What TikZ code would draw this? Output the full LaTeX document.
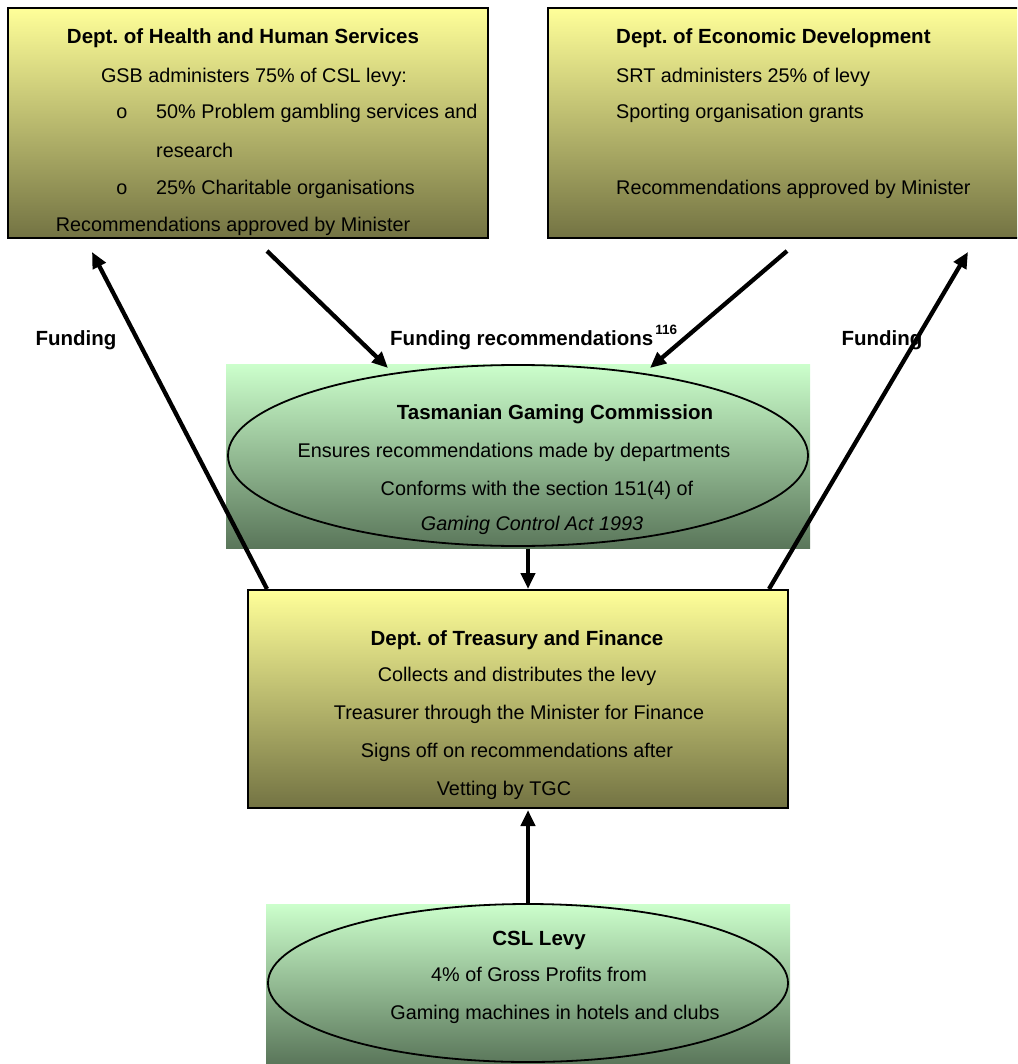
\documentclass[tikz,border=0pt]{standalone}
\usepackage{fontspec}
\setmainfont{Liberation Sans}
\usetikzlibrary{arrows.meta,calc,shapes.geometric}
\definecolor{ytop}{HTML}{FFFF99}
\definecolor{ybot}{HTML}{737343}
\definecolor{gtop}{HTML}{CCFFCC}
\definecolor{gbot}{HTML}{5A765A}
\frenchspacing
\begin{document}
\begin{tikzpicture}[x=1pt,y=-1pt,
  ybox/.style={draw=black, line width=2pt, top color=ytop, bottom color=ybot, rectangle, inner sep=0pt},
  gbox/.style={top color=gtop, bottom color=gbot, rectangle, inner sep=0pt, draw=none},
  oval/.style={draw=black, line width=1.8pt, ellipse, inner sep=0pt},
  txt/.style={anchor=base, inner sep=0pt, font=\fontsize{19.8}{24}\selectfont},
  ltxt/.style={txt, anchor=base west},
  ttl/.style={anchor=base, inner sep=0pt, font=\fontsize{20.5}{24}\selectfont\bfseries},
  lttl/.style={ttl, anchor=base west},
  conn/.style={line width=4.3pt, -{Triangle[length=16pt,width=14pt]}},
]
\useasboundingbox (0,0) rectangle (1017,1064);
\clip (0,0) rectangle (1017,1064);

% boxes
\node[ybox, minimum width=480pt, minimum height=230pt] (hhs) at (248,123) {};
\node[ybox, minimum width=482pt, minimum height=230pt] (ed) at (789,123) {};
\node[gbox, minimum width=584pt, minimum height=184pt] (tgcbg) at (518,456) {};
\node[oval, minimum width=580pt, minimum height=181pt] (tgc) at (518,455.5) {};
\node[ybox, minimum width=540pt, minimum height=218pt] (tr) at (518,699) {};
\node[gbox, minimum width=524pt, minimum height=160pt] (cslbg) at (528,984) {};
\node[oval, minimum width=520pt, minimum height=158pt] (csl) at (528,983) {};

% HHS text
\node[ttl] (h1) at (243,44) {Dept. of Health and Human Services};
\node[txt] (h2) at (254,83) {GSB administers 75\% of CSL levy:};
\node[txt] (hb1) at (122,119) {o};
\node[ltxt] (h3) at (156,119) {50\% Problem gambling services and};
\node[ltxt] (h4) at (156,158) {research};
\node[txt] (hb2) at (122,195) {o};
\node[ltxt] (h5) at (156,195) {25\% Charitable organisations};
\node[txt] (h6) at (233,232) {Recommendations approved by Minister};

% ED text
\node[lttl] (e1) at (616,44) {Dept. of Economic Development};
\node[ltxt] (e2) at (616,83) {SRT administers 25\% of levy};
\node[ltxt] (e3) at (616,119) {Sporting organisation grants};
\node[ltxt] (e4) at (616,195) {Recommendations approved by Minister};

% TGC text
\node[ttl] (t1) at (555,419) {Tasmanian Gaming Commission};
\node[txt] (t2) at (514,457) {Ensures recommendations made by departments};
\node[txt] (t3) at (537,495) {Conforms with the section 151(4) of};
\node[txt] (t4) at (532,530) {\itshape Gaming Control Act 1993};

% Treasury text
\node[ttl] (r1) at (517,645) {Dept. of Treasury and Finance};
\node[txt] (r2) at (517,681) {Collects and distributes the levy};
\node[txt] (r3) at (519,719) {Treasurer through the Minister for Finance};
\node[txt] (r4) at (517,757) {Signs off on recommendations after};
\node[txt] (r5) at (504,795) {Vetting by TGC};

% CSL text
\node[ttl] (c1) at (539,945) {CSL Levy};
\node[txt] (c2) at (539,981) {4\% of Gross Profits from};
\node[txt] (c3) at (555,1019) {Gaming machines in hotels and clubs};

% labels
\node[ttl] (lf1) at (76,345) {Funding};
\node[lttl] (lf2) at (390,345) {Funding recommendations\kern2pt\raisebox{0.5em}{\fontsize{13.5}{14}\selectfont\bfseries 116}};
\node[ttl] (lf3) at (882,345) {Funding};

% coordinates
\coordinate (fl) at (92,252);
\coordinate (fr) at (968,252);
\coordinate (rl) at (388,368);
\coordinate (rr) at (650,368);

% connectors
\draw[conn] ($(tr.north west)+(20,0)$) -- (fl);
\draw[conn] ($(tr.north east)+(-20,0)$) -- (fr);
\draw[conn] ($(hhs.south west)+(260,12)$) -- (rl);
\draw[conn] ($(ed.south west)+(240,12)$) -- (rr);
\draw[conn] ($(tgc.south)+(10,2)$) -- ($(tr.north)+(10,0)$);
\draw[conn] ($(csl.north)+(0,0)$) -- ($(tr.south)+(10,1)$);
\end{tikzpicture}
\end{document}
